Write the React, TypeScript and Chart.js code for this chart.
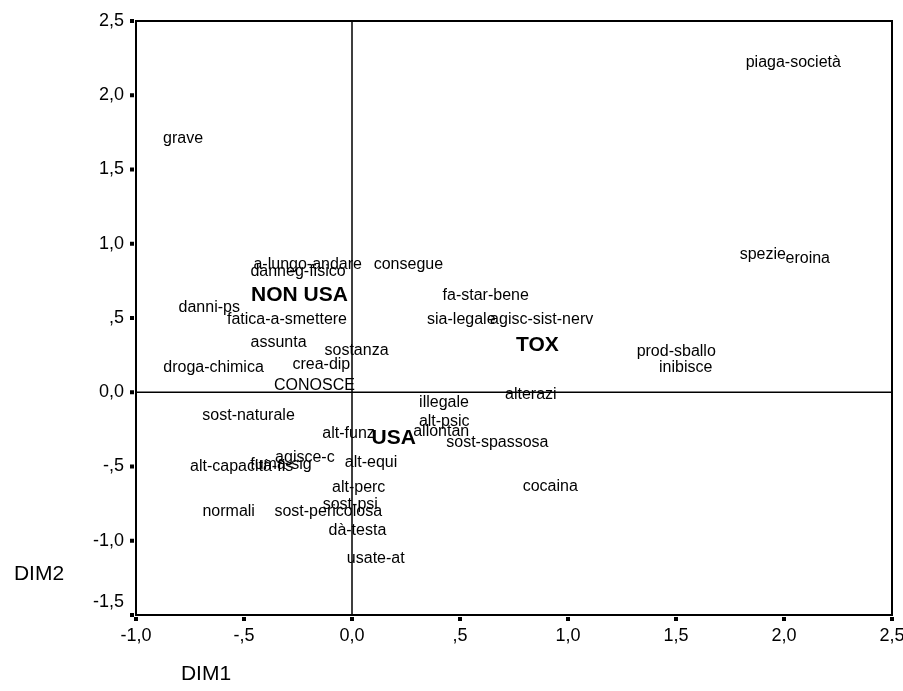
import React, { useEffect, useRef } from "react";
import { Chart, registerables } from "chart.js";

Chart.register(...registerables);

const pointLabels = [
  "grave", "piaga-società", "spezie", "eroina", "a-lungo-andare", "danneg-fisico",
  "consegue", "fa-star-bene", "danni-ps", "fatica-a-smettere", "sia-legale",
  "agisc-sist-nerv", "assunta", "sostanza", "prod-sballo", "droga-chimica",
  "crea-dip", "inibisce", "CONOSCE", "alterazi", "illegale", "sost-naturale",
  "alt-psic", "allontan", "alt-funz", "sost-spassosa", "agisce-c", "alt-equi",
  "fuma-sig", "alt-capacità-fis", "cocaina", "alt-perc", "sost-psi",
  "sost-pericolosa", "normali", "dà-testa", "usate-at",
];
const pointDim1 = [
  -0.782, 2.043, 1.902, 2.11, -0.205, -0.25,
  0.261, 0.619, -0.661, -0.301, 0.506,
  0.878, -0.34, 0.021, 1.501, -0.641,
  -0.142, 1.545, -0.174, 0.828, 0.426, -0.479,
  0.427, 0.413, -0.016, 0.673, -0.218, 0.088,
  -0.329, -0.511, 0.918, 0.031, -0.008,
  -0.11, -0.571, 0.025, 0.11,
];
const pointDim2 = [
  1.718, 2.228, 0.937, 0.908, 0.87, 0.82,
  0.87, 0.663, 0.582, 0.5, 0.5,
  0.5, 0.342, 0.293, 0.286, 0.178,
  0.197, 0.178, 0.057, -0.005, -0.057, -0.145,
  -0.19, -0.253, -0.268, -0.331, -0.428, -0.466,
  -0.477, -0.493, -0.623, -0.63, -0.746,
  -0.791, -0.791, -0.921, -1.11,
];

const groupLabels = ["NON USA", "USA", "TOX"];
const groupDim1 = [-0.243, 0.193, 0.858];
const groupDim2 = [0.661, -0.302, 0.327];

const xTickValues = [-1, -0.5, 0, 0.5, 1, 1.5, 2, 2.5];
const xTickLabels = ["-1,0", "-,5", "0,0", ",5", "1,0", "1,5", "2,0", "2,5"];
const yTickValues = [2.5, 2, 1.5, 1, 0.5, 0, -0.5, -1, -1.5];
const yTickLabels = ["2,5", "2,0", "1,5", "1,0", ",5", "0,0", "-,5", "-1,0", "-1,5"];

const xTitle = "DIM1";
const yTitle = "DIM2";

const FONT = "Arial, 'Liberation Sans', sans-serif";

const drawPlugin = {
  id: "spssDraw",
  afterDatasetsDraw(chart: any) {
    const ctx = chart.ctx as CanvasRenderingContext2D;
    const xs = chart.scales.x;
    const ys = chart.scales.y;
    const ca = chart.chartArea;
    ctx.save();

    // zero reference lines
    ctx.strokeStyle = "#000";
    ctx.lineWidth = 1.5;
    const x0 = xs.getPixelForValue(0);
    const y0 = ys.getPixelForValue(0);
    ctx.beginPath();
    ctx.moveTo(x0, ca.top);
    ctx.lineTo(x0, ca.bottom);
    ctx.moveTo(ca.left, y0);
    ctx.lineTo(ca.right, y0);
    ctx.stroke();

    // frame
    ctx.lineWidth = 2;
    ctx.strokeStyle = "#000";
    ctx.strokeRect(ca.left, ca.top, ca.right - ca.left, ca.bottom - ca.top);

    // ticks
    ctx.fillStyle = "#000";
    ctx.font = `18px ${FONT}`;
    ctx.textAlign = "right";
    ctx.textBaseline = "middle";
    yTickValues.forEach((v, i) => {
      const py = ys.getPixelForValue(v);
      ctx.fillRect(ca.left - 6, py - 2, 4, 4);
      const shift = v === -1.5 ? -13 : 0;
      ctx.fillText(yTickLabels[i], ca.left - 12, py + shift);
    });
    ctx.textAlign = "center";
    ctx.textBaseline = "middle";
    xTickValues.forEach((v, i) => {
      const px = xs.getPixelForValue(v);
      ctx.fillRect(px - 2, ca.bottom + 2, 4, 4);
      ctx.fillText(xTickLabels[i], px, ca.bottom + 21);
    });

    // axis titles
    ctx.font = `21px ${FONT}`;
    ctx.textAlign = "center";
    ctx.fillText(yTitle, 39, 574);
    ctx.fillText(xTitle, 206, 674);

    // point labels
    const meta0 = chart.getDatasetMeta(0);
    ctx.font = `16px ${FONT}`;
    ctx.textAlign = "center";
    ctx.textBaseline = "middle";
    meta0.data.forEach((pt: any, i: number) => {
      ctx.fillText(pointLabels[i], pt.x, pt.y + 1.5);
    });
    const meta1 = chart.getDatasetMeta(1);
    ctx.font = `bold 21px ${FONT}`;
    meta1.data.forEach((pt: any, i: number) => {
      ctx.fillText(groupLabels[i], pt.x, pt.y + 1.5);
    });
    ctx.restore();
  },
};

export default function App() {
  const ref = useRef<HTMLCanvasElement | null>(null);
  useEffect(() => {
    if (!ref.current) return;
    const chart = new Chart(ref.current, {
      type: "scatter",
      data: {
        datasets: [
          {
            label: "variables",
            data: pointDim1.map((x, i) => ({ x, y: pointDim2[i] })),
            pointRadius: 0,
            pointHoverRadius: 0,
          },
          {
            label: "groups",
            data: groupDim1.map((x, i) => ({ x, y: groupDim2[i] })),
            pointRadius: 0,
            pointHoverRadius: 0,
          },
        ],
      },
      options: {
        responsive: false,
        animation: false,
        devicePixelRatio: 1,
        layout: { padding: { left: 136, right: 11, top: 21, bottom: 76 } },
        plugins: {
          legend: { display: false },
          tooltip: { enabled: false },
        },
        scales: {
          x: { type: "linear", min: -1, max: 2.5, display: false },
          y: { type: "linear", min: -1.5, max: 2.5, display: false },
        },
      },
      plugins: [drawPlugin],
    });
    return () => chart.destroy();
  }, []);
  return (
    <div style={{ position: "absolute", left: 0, top: 0, width: 903, height: 691, background: "#fff" }}>
      <canvas ref={ref} width={903} height={691} />
    </div>
  );
}
